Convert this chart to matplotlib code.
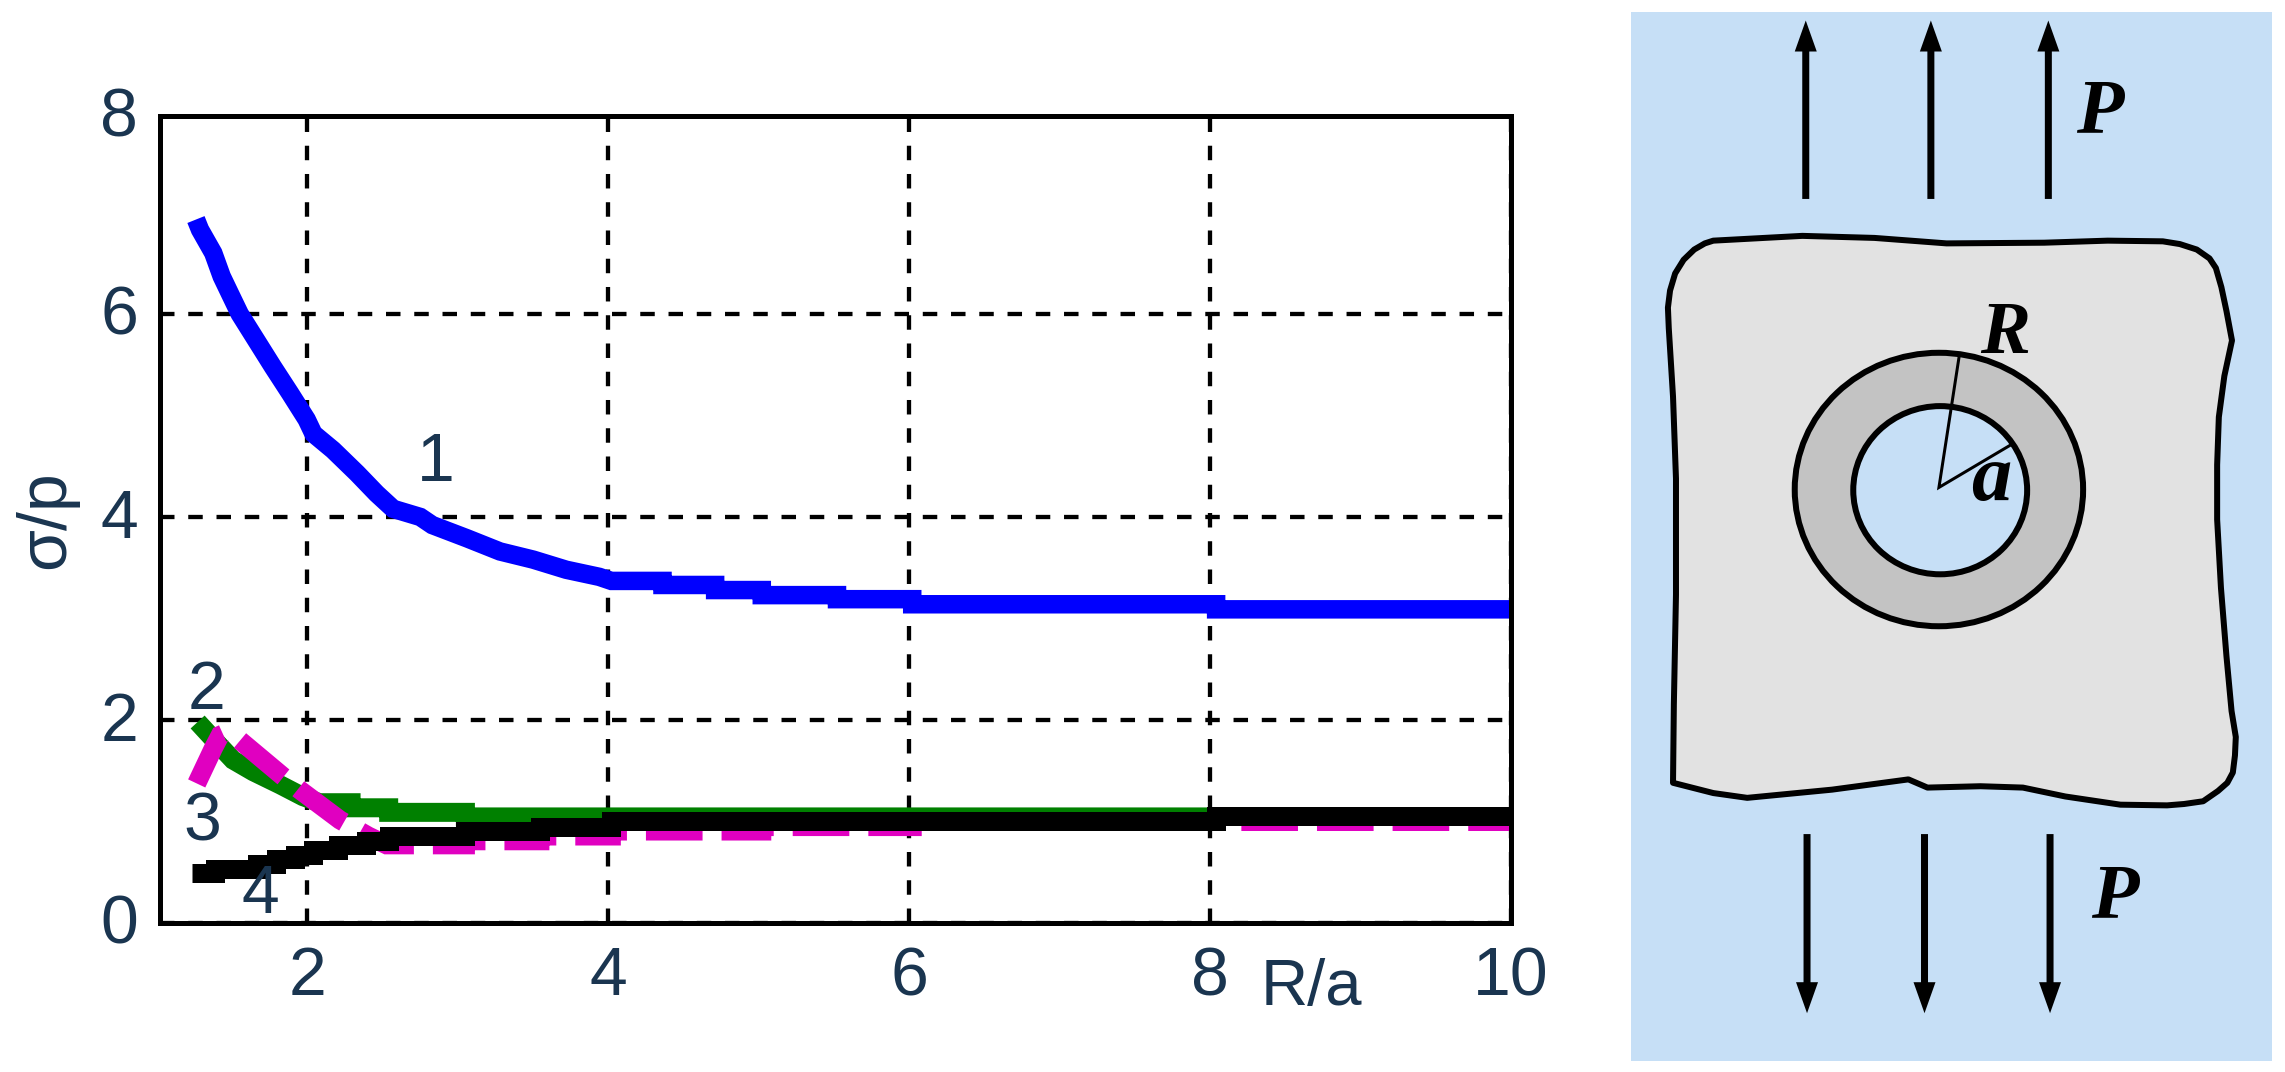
import matplotlib
matplotlib.use('Agg')
import matplotlib.pyplot as plt
import matplotlib.patches as mplpatches
from matplotlib.transforms import ScaledTranslation

plt.rcParams['font.family'] = ['Liberation Sans', 'DejaVu Sans']

# curve values, the tails are stairs in the original
curve1_x = [1.259, 1.286, 1.374, 1.43, 1.485, 1.55, 1.66, 1.77, 1.884, 1.995, 2.04, 2.17, 2.33, 2.46, 2.57, 2.75, 2.83, 3.06, 3.28, 3.50, 3.72, 3.94, 4.02, 4.36, 4.36, 4.71, 4.71, 5.02, 5.02, 5.52, 5.52, 6.02, 6.02, 8.04, 8.04, 10.0]
curve1_y = [6.93, 6.83, 6.60, 6.37, 6.20, 6.00, 5.74, 5.48, 5.22, 4.96, 4.82, 4.66, 4.43, 4.23, 4.08, 4.00, 3.92, 3.79, 3.66, 3.58, 3.48, 3.41, 3.37, 3.37, 3.33, 3.33, 3.28, 3.28, 3.23, 3.23, 3.19, 3.19, 3.14, 3.14, 3.09, 3.09]

curve2_x = [1.27, 1.36, 1.505, 1.64, 1.82, 1.97, 2.08, 2.29, 2.29, 2.54, 2.54, 3.05, 3.05, 8.04]
curve2_y = [1.98, 1.835, 1.606, 1.49, 1.36, 1.245, 1.185, 1.185, 1.135, 1.135, 1.09, 1.09, 1.045, 1.045]

curve3_x = [1.264, 1.374, 1.42, 1.45, 1.55, 1.84, 1.95, 2.216, 2.404, 2.526, 3.05, 3.05, 3.545, 3.545, 4.02, 4.02, 5.02, 5.02, 6.02, 6.02, 10.0]
curve3_y = [1.375, 1.72, 1.85, 1.87, 1.80, 1.44, 1.31, 1.015, 0.857, 0.77, 0.77, 0.81, 0.81, 0.857, 0.857, 0.906, 0.906, 0.95, 0.95, 1.0, 1.0]

curve4_x = [1.23, 1.385, 1.665, 1.79, 1.915, 2.04, 2.20, 2.39, 2.54, 3.05, 3.545, 4.02, 8.04, 10.0]
curve4_y = [0.49, 0.535, 0.58, 0.63, 0.67, 0.72, 0.765, 0.81, 0.86, 0.906, 0.95, 1.0, 1.05, 1.05]

x_ticks = [2, 4, 6, 8, 10]
# the top of the frame sits a little under 8 in the original
y_ticks = [0, 2, 4, 6, 7.95]
y_tick_labels = ['0', '2', '4', '6', '8']

# outline of the plate, in the schematic panel's own coordinates
plate_x = [113, 118, 130, 150, 175, 200, 220, 430, 600, 770, 1000, 1150, 1280, 1320, 1360, 1390, 1405, 1418, 1430, 1443, 1425, 1412, 1408, 1408, 1417, 1430, 1442, 1452, 1450, 1445, 1432, 1410, 1375, 1330, 1290, 1180, 1050, 950, 850, 725, 680, 500, 300, 220, 125, 127, 132, 132, 125, 115]
plate_y = [450, 425, 400, 380, 365, 356, 352, 345, 348, 356, 355, 352, 353, 357, 365, 378, 392, 420, 455, 498, 550, 610, 680, 760, 860, 960, 1040, 1078, 1105, 1130, 1145, 1157, 1172, 1176, 1178, 1177, 1165, 1152, 1150, 1152, 1140, 1155, 1167, 1160, 1145, 1030, 870, 700, 580, 480]

up_arrow_x = [438, 733, 1010]
down_arrow_x = [441, 718, 1014]

figureWidth = 22.85
figureHeight = 10.72
W = 2285
H = 1072
px = 0.72  # one pixel in points at dpi 100

fig = plt.figure(figsize=(figureWidth, figureHeight), dpi=100)

# chart panel
left, right, top, bottom = 160, 1511, 116, 923
mainPanel = plt.axes([left/W, 1-bottom/H, (right-left)/W, (bottom-top)/H])
mainPanel.set_xlim(1.02, 10)
mainPanel.set_ylim(0, 7.95)
mainPanel.set_xticks(x_ticks)
mainPanel.set_yticks(y_ticks, y_tick_labels)

textColor = '#1a3550'
mainPanel.tick_params(axis='x', length=0, pad=22*px, labelsize=49, labelcolor=textColor)
mainPanel.tick_params(axis='y', length=0, pad=22*px, labelsize=49, labelcolor=textColor)

shiftUp = ScaledTranslation(0, 4/100, fig.dpi_scale_trans)
for label in mainPanel.get_yticklabels():
    label.set_transform(label.get_transform() + shiftUp)

for spine in mainPanel.spines.values():
    spine.set_linewidth(5*px)
    spine.set_zorder(6)

mainPanel.set_axisbelow(True)
mainPanel.grid(True, color='black', linewidth=4.3*px, linestyle=(0, (3.37, 3.2)))

lineWidth = 19*px
mainPanel.plot(curve1_x, curve1_y, color='#0000ff', linewidth=18.5*px, solid_capstyle='butt', solid_joinstyle='miter', zorder=2)
mainPanel.plot(curve2_x, curve2_y, color='#008000', linewidth=lineWidth, solid_capstyle='butt', solid_joinstyle='miter', zorder=3)
mainPanel.plot(curve3_x, curve3_y, color='#e000c0', linewidth=lineWidth, linestyle=(0, (2.98, 1.0)), dash_capstyle='butt', dash_joinstyle='miter', zorder=4)
mainPanel.plot(curve4_x, curve4_y, color='black', linewidth=lineWidth, drawstyle='steps-post', solid_capstyle='butt', solid_joinstyle='miter', zorder=5)

mainPanel.text(2.85, 4.53, '1', fontsize=49, color=textColor, ha='center', va='center', zorder=7)
mainPanel.text(1.33, 2.29, '2', fontsize=49, color=textColor, ha='center', va='center', zorder=7)
mainPanel.text(1.30, 0.99, '3', fontsize=49, color=textColor, ha='center', va='center', zorder=7)
mainPanel.text(1.69, 0.28, '4', fontsize=49, color=textColor, ha='center', va='center', zorder=7)

fig.text(1311/W, 1-1005/H, 'R/a', fontsize=47, color=textColor, ha='center', va='baseline')
fig.text(46/W, 1-520/H, 'σ/p', fontsize=49, color=textColor, rotation=90, ha='center', va='center')

# schematic panel, axes run in the coordinates of the crop
sidePanel = plt.axes([1620/W, 0, 665/W, 1])
sidePanel.set_xlim(0, 1568)
sidePanel.set_ylim(1568, 0)
sidePanel.axis('off')

bgColor = '#c6dff6'
outline = 6*px
sidePanel.add_patch(mplpatches.Rectangle((25, 18), 1512, 1534, facecolor=bgColor, edgecolor='none'))
sidePanel.add_patch(mplpatches.Polygon(list(zip(plate_x, plate_y)), closed=True, facecolor='#e2e2e2', edgecolor='black', linewidth=outline, joinstyle='round'))
sidePanel.add_patch(mplpatches.Ellipse((752, 716), 680, 400, facecolor='#c3c3c3', edgecolor='black', linewidth=outline))
sidePanel.add_patch(mplpatches.Ellipse((755, 717), 410, 246, facecolor=bgColor, edgecolor='black', linewidth=outline))

sidePanel.plot([800, 752, 918], [520, 713, 652], color='black', linewidth=3*px, solid_joinstyle='miter')

arrowStyle = dict(facecolor='black', edgecolor='none', width=7*px, headwidth=22*px, headlength=31*px, shrink=0)
for x in up_arrow_x:
    sidePanel.annotate('', xy=(x, 30), xytext=(x, 291), arrowprops=arrowStyle)
for x in down_arrow_x:
    sidePanel.annotate('', xy=(x, 1482), xytext=(x, 1220), arrowprops=arrowStyle)

serif = dict(family='Liberation Serif', weight='bold', style='italic', color='black', ha='center', va='center')
sidePanel.text(1132, 167, 'P', fontsize=56, **serif)
sidePanel.text(1167, 1315, 'P', fontsize=56, **serif)
sidePanel.text(908, 490, 'R', fontsize=54, **serif)
sidePanel.text(876, 703, 'a', fontsize=58, **serif)

plt.savefig('out.png', dpi=100)
